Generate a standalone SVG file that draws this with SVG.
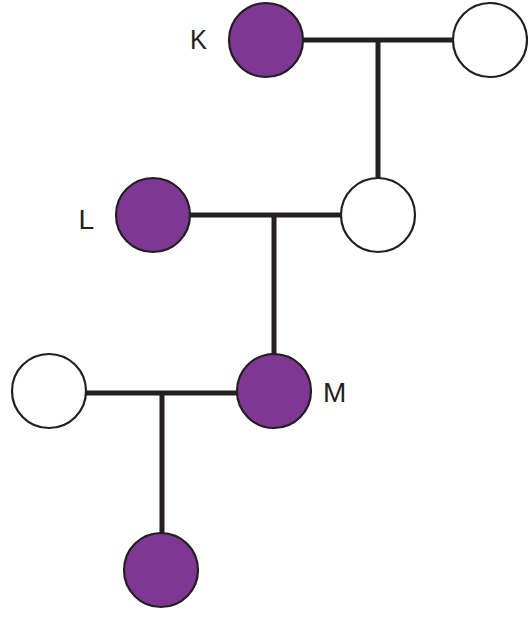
<svg xmlns="http://www.w3.org/2000/svg" width="528" height="617" viewBox="0 0 528 617">
<style>
.c{stroke:#231f20;stroke-width:2.2}
.f{fill:#7f3794}
.e{fill:#ffffff}
.ln{stroke:#231f20;stroke-width:5;fill:none}
.t{font-family:"Liberation Sans",Arial,sans-serif;font-size:28px;fill:#231f20}
</style>
<rect width="528" height="617" fill="#ffffff"/>
<g id="connectors">
<path class="ln" d="M302 40H454M378 40V178"/>
<path class="ln" d="M190 215H342M274 215V354"/>
<path class="ln" d="M86 393H238M162 393V533"/>
</g>
<g id="K"><circle class="c f" cx="266" cy="40" r="37"/><text class="t" x="190" y="49" textLength="17" lengthAdjust="spacingAndGlyphs">K</text></g>
<g id="n2"><circle class="c e" cx="490" cy="40" r="37"/></g>
<g id="L"><circle class="c f" cx="153" cy="215" r="37"/><text class="t" x="78.5" y="229">L</text></g>
<g id="n4"><circle class="c e" cx="378" cy="215" r="37"/></g>
<g id="n5"><circle class="c e" cx="49" cy="391" r="37"/></g>
<g id="M"><circle class="c f" cx="274" cy="391" r="37"/><text class="t" x="323" y="401.5">M</text></g>
<g id="n7"><circle class="c f" cx="161" cy="570" r="37"/></g>
</svg>
